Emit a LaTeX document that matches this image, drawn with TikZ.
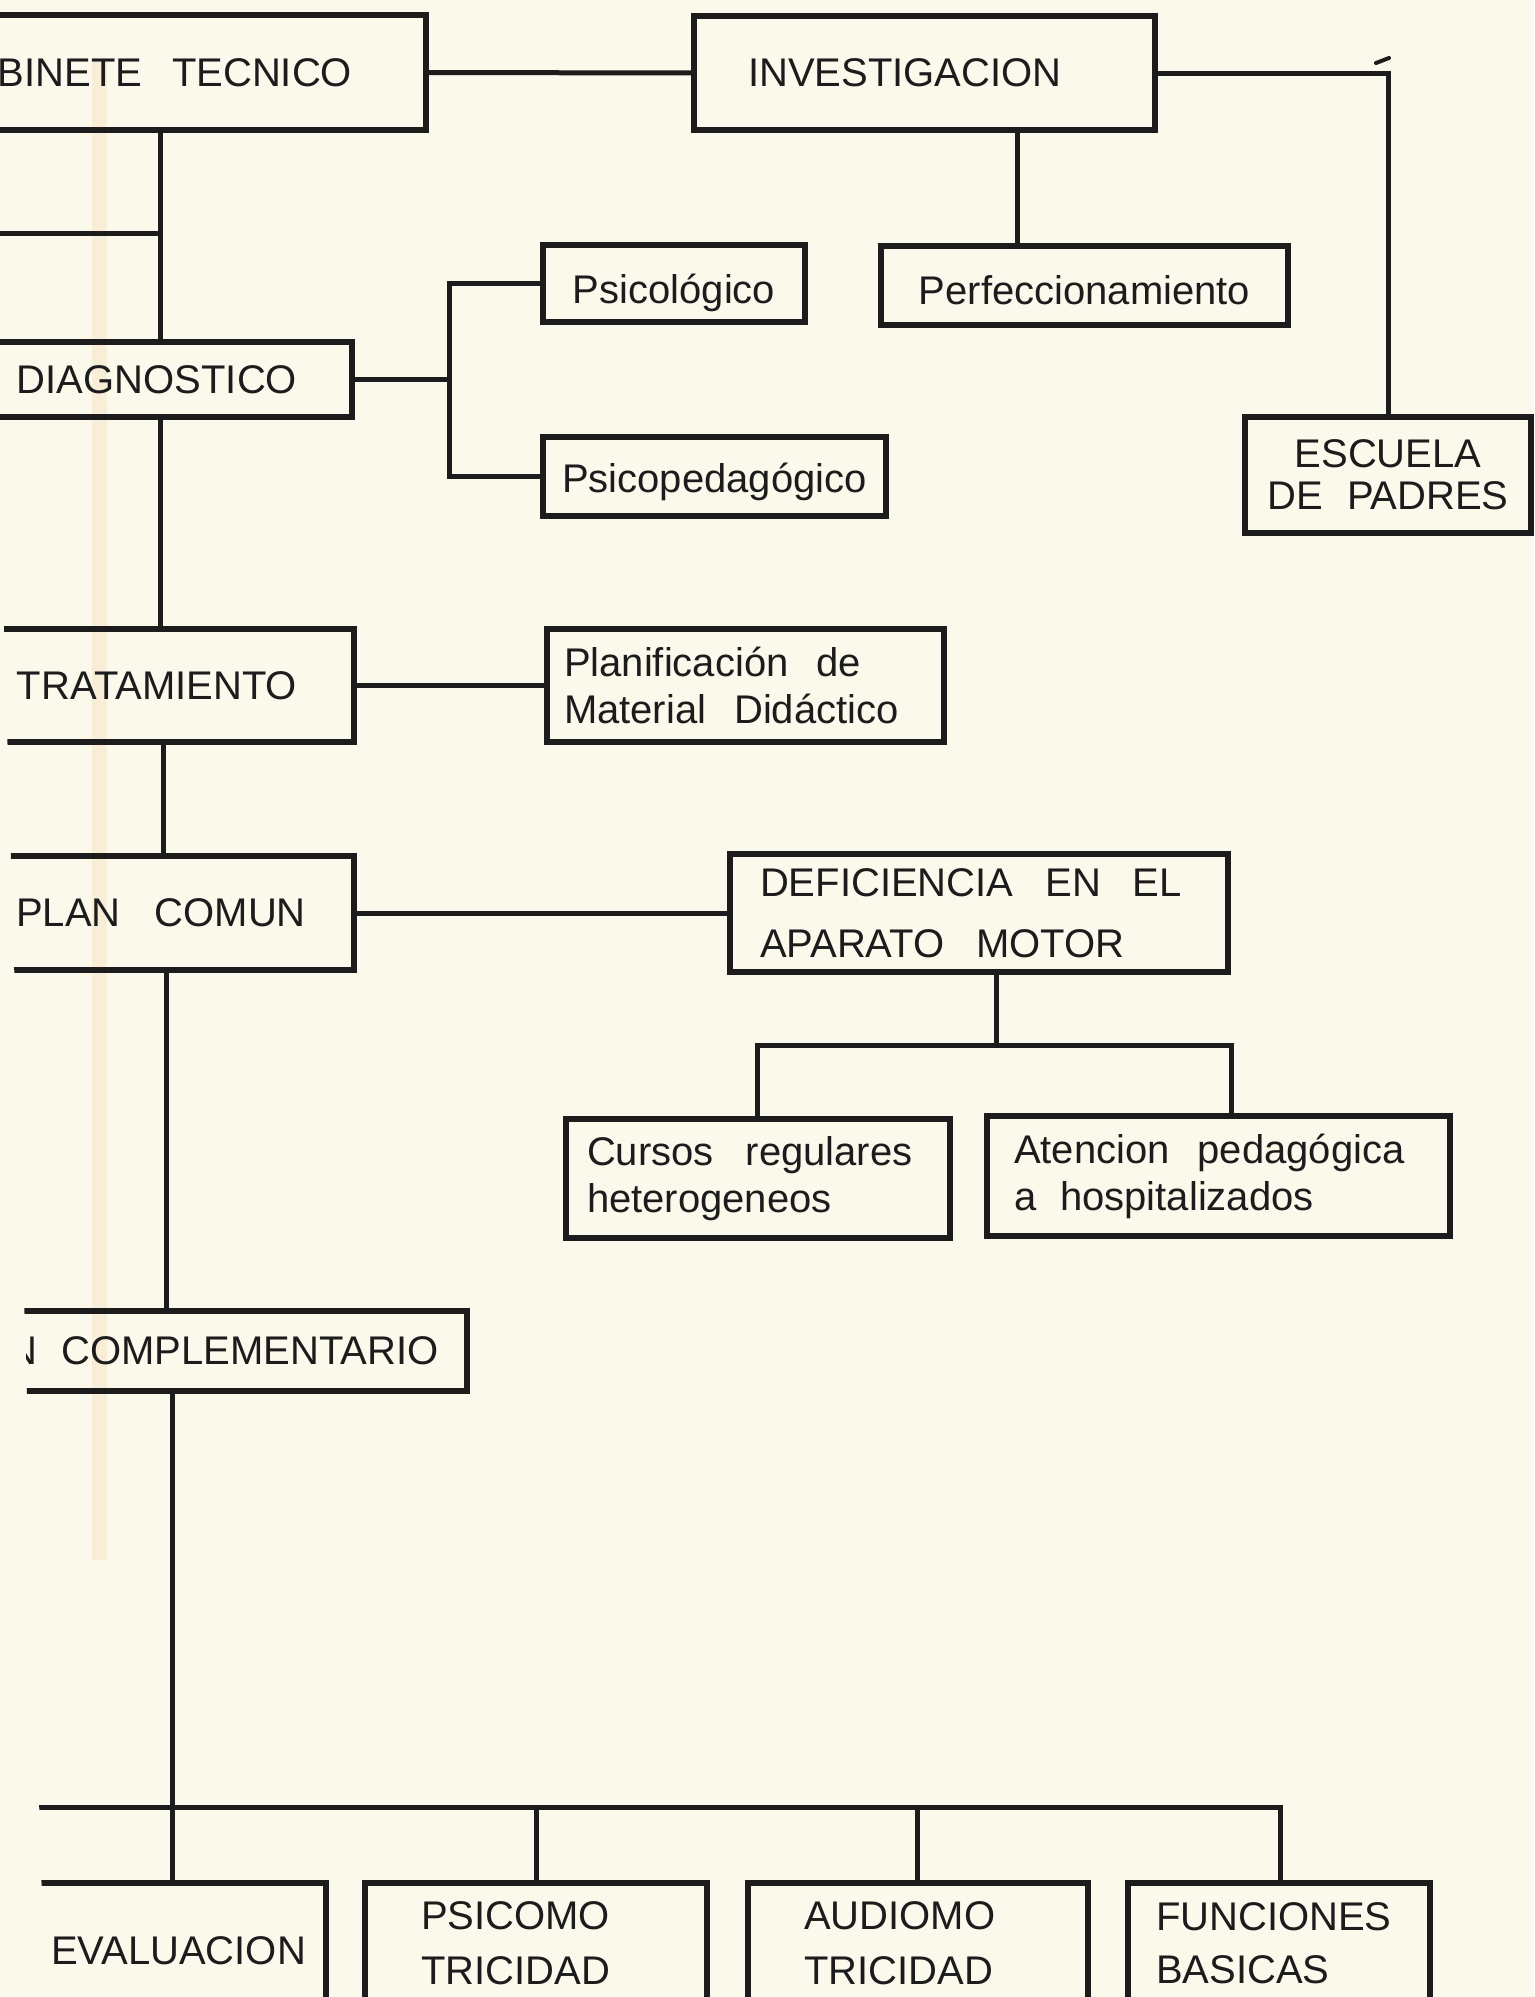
\documentclass[tikz,border=0pt]{standalone}
\usepackage{fontspec}
\setmainfont{Liberation Sans}[WordSpace=1.8]
\hyphenpenalty=10000
\exhyphenpenalty=10000
\definecolor{ink}{HTML}{1C1C1C}
\definecolor{paper}{HTML}{FBF8EC}
\definecolor{stain}{HTML}{F1C890}
\newcommand{\gp}[1]{\hspace{#1em}}
\newcommand{\dn}[2]{\raisebox{-#1pt}[\height][\depth]{#2}}
\begin{document}
\begin{tikzpicture}[x=1pt,y=-1pt,
  box/.style={draw=ink, line width=6pt, text=ink, inner ysep=0pt, outer sep=0pt,
    font=\fontsize{40}{48}\selectfont},
  bs/.style={font=\fontsize{40}{#1}\selectfont},
  conn/.style={draw=ink, line width=5pt, line cap=rect}]
\fill[paper] (0,0) rectangle (1534,1997);
\useasboundingbox (0,0) rectangle (1534,1997);
\fill[stain, opacity=0.22] (92,60) rectangle (107,1560);
\begin{scope}
\clip (-15,-10) -- (1560,-10) -- (1560,2010) -- (45.3,2010) -- cycle;
% boxes
\node[box, minimum width=560pt, minimum height=115pt, text width=540pt, inner xsep=10pt, align=center] (GT) at (146,72.5) {GABINETE\gp{0.75}TECNICO};
\node[box, minimum width=461pt, minimum height=114pt, text width=353pt, inner xsep=54pt, align=left] (INV) at (924.5,73) {INVESTIGACION};
\node[box, minimum width=407pt, minimum height=79pt, text width=387pt, inner xsep=10pt, align=center] (Perf) at (1084.5,285.5) {\dn{5}{Perfeccionamiento}};
\node[box, minimum width=262pt, minimum height=77pt, text width=242pt, inner xsep=10pt, align=center] (Psicol) at (674,283.5) {\dn{9}{Psicológico}};
\node[box, minimum width=343pt, minimum height=79pt, text width=327pt, inner xsep=8pt, align=center] (Psicoped) at (714.5,476.5) {\dn{5}{Psicopedagógico}};
\node[box, bs=42, minimum width=286pt, minimum height=116pt, text width=266pt, inner xsep=10pt, align=center] (ESC) at (1388,475) {ESCUELA\\DE\gp{0.6}PADRES};
\node[box, minimum width=390pt, minimum height=75pt, text width=370pt, inner xsep=10pt, align=center] (DIAG) at (157,379.5) {DIAGNOSTICO};
\node[box, minimum width=394pt, minimum height=113pt, text width=374pt, inner xsep=10pt, align=center] (TRAT) at (157,685.5) {TRATAMIENTO};
\node[box, bs=47, minimum width=397pt, minimum height=113pt, text width=363pt, inner xsep=17pt, align=left] (Planif) at (745.5,685.5) {Planificación\gp{0.7}de\\Material\gp{0.7}Didáctico};
\node[box, minimum width=386pt, minimum height=114pt, text width=366pt, inner xsep=10pt, align=center] (PC) at (161,913) {PLAN\gp{0.85}COMUN};
\node[box, bs=61, minimum width=498pt, minimum height=118pt, text width=438pt, inner xsep=30pt, align=left] (DEF) at (979,913) {DEFICIENCIA\gp{0.8}EN\gp{0.8}EL\\APARATO\gp{0.8}MOTOR};
\node[box, bs=47, minimum width=384pt, minimum height=119pt, text width=342pt, inner xsep=21pt, align=left] (Cursos) at (758,1178.5) {Cursos\gp{0.8}regulares\\heterogeneos};
\node[box, bs=47, minimum width=463pt, minimum height=120pt, text width=409pt, inner xsep=27pt, align=left] (Aten) at (1218.5,1176) {Atencion\gp{0.7}pedagógica\\a\gp{0.6}hospitalizados};
\node[box, minimum width=562pt, minimum height=80pt, text width=542pt, inner xsep=10pt, align=center] (COMPL) at (186,1351) {PLAN\gp{0.6}COMPLEMENTARIO};
\node[box, minimum width=295pt, minimum height=120pt, text width=275pt, inner xsep=10pt, align=center] (EVAL) at (178.5,1943) {\dn{8}{EVALUACION}};
\node[box, bs=55, minimum width=342pt, minimum height=120pt, text width=230pt, inner xsep=56pt, align=left] (PSICO) at (536,1943) {PSICOMO\\TRICIDAD};
\node[box, bs=55, minimum width=340pt, minimum height=120pt, text width=228pt, inner xsep=56pt, align=left] (AUDIO) at (918,1943) {AUDIOMO\\TRICIDAD};
\node[box, bs=53, minimum width=302pt, minimum height=120pt, text width=246pt, inner xsep=28pt, align=left] (FUNC) at (1279,1943) {FUNCIONES\\BASICAS};
% helper coordinates
\coordinate (cInv) at (1017,0);
\coordinate (t1) at (160,0);
\coordinate (t2) at (163,0);
\coordinate (t3) at (166,0);
\coordinate (t4) at (172,0);
\coordinate (brA) at (160,233);
\coordinate (brB) at (-30,233);
\coordinate (bk) at (449,0);
\coordinate (dd) at (996,1045);
\coordinate (bL) at (757,1045);
\coordinate (bR) at (1231,1045);
\coordinate (barL) at (30,1807);
\coordinate (barR) at (1280,1807);
\coordinate (p1) at (536,1807);
\coordinate (p2) at (917,1807);
\coordinate (tkA) at (1376,63);
\coordinate (tkB) at (1389,58);
% connectors
\draw[conn] (GT.east) -- (INV.west);
\draw[conn] (INV.east) -| (ESC.north);
\draw[draw=ink, line width=4pt, line cap=round] (tkA) -- (tkB);
\draw[conn] (INV.south -| cInv) -- (Perf.north -| cInv);
\draw[conn] (GT.south -| t1) -- (DIAG.north -| t1);
\draw[conn] (brA) -- (brB);
\draw[conn] (DIAG.east) -- (DIAG.east -| bk);
\draw[conn] (Psicol.west) -- (Psicol.west -| bk) -- (Psicoped.west -| bk) -- (Psicoped.west);
\draw[conn] (DIAG.south -| t1) -- (TRAT.north -| t1);
\draw[conn] (TRAT.east) -- (Planif.west);
\draw[conn] (TRAT.south -| t2) -- (PC.north -| t2);
\draw[conn] (PC.east) -- (DEF.west);
\draw[conn] (DEF.south -| dd) -- (dd);
\draw[conn] (Cursos.north -| bL) -- (bL) -- (bR) -- (Aten.north -| bR);
\draw[conn] (PC.south -| t3) -- (COMPL.north -| t3);
\draw[conn] (COMPL.south -| t4) -- (EVAL.north -| t4);
\draw[conn] (barL) -- (barR) -- (FUNC.north -| barR);
\draw[conn] (p1) -- (PSICO.north -| p1);
\draw[conn] (p2) -- (AUDIO.north -| p2);
\end{scope}
\end{tikzpicture}
\end{document}
